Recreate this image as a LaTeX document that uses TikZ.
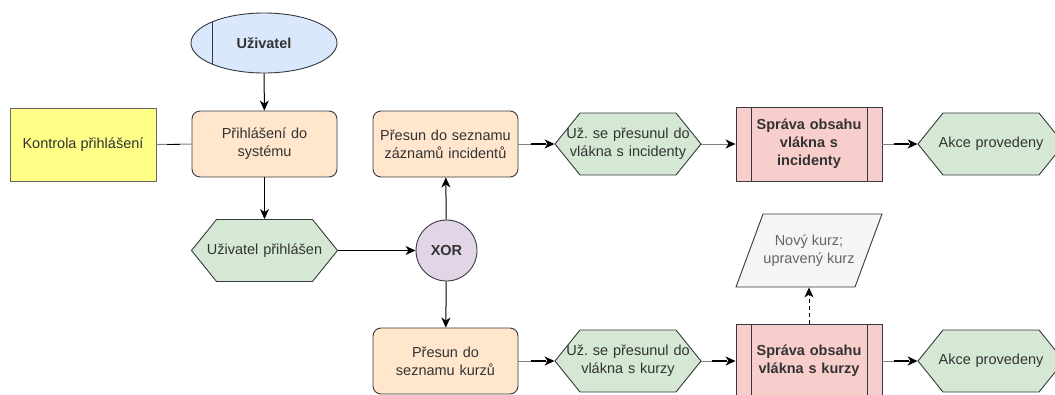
\documentclass[tikz,border=0pt]{standalone}
\usepackage{fontspec}
\setmainfont{Liberation Sans}
\usetikzlibrary{arrows.meta,shapes.geometric}
\frenchspacing

\definecolor{txt}{HTML}{333333}
\definecolor{edge}{HTML}{36393D}
\definecolor{line}{HTML}{808080}
\definecolor{userfill}{HTML}{DAE8FC}
\definecolor{procfill}{HTML}{FFE6CC}
\definecolor{eventfill}{HTML}{D5E8D4}
\definecolor{xorfill}{HTML}{E1D5E7}
\definecolor{subfill}{HTML}{F8CECC}
\definecolor{ctrlfill}{HTML}{FFFF88}
\definecolor{datafill}{HTML}{F5F5F5}
\definecolor{datatxt}{HTML}{666666}

\tikzset{
  base/.style={draw=edge, line width=0.9pt, text=txt, align=center,
    font=\fontsize{14.5}{18}\selectfont, inner sep=2pt},
  proc/.style={base, rounded corners=8pt, fill=procfill,
    minimum width=145pt, minimum height=66pt, text width=138pt},
  ctrl/.style={base, draw=datatxt, fill=ctrlfill,
    minimum width=146pt, minimum height=73pt},
  subproc/.style={base, fill=subfill, minimum width=146pt, minimum height=74pt,
    text width=112pt, font=\fontsize{14.5}{18}\selectfont\bfseries,
    path picture={
      \draw[edge, line width=0.9pt]
        ([xshift=15pt]path picture bounding box.north west) --
        ([xshift=15pt]path picture bounding box.south west)
        ([xshift=-15pt]path picture bounding box.north east) --
        ([xshift=-15pt]path picture bounding box.south east);}},
  evtext/.style={base, draw=none, minimum width=146pt, minimum height=62pt,
    text width=128pt},
  user/.style={base, ellipse, fill=userfill, minimum width=146pt,
    minimum height=60pt, font=\fontsize{14.5}{18}\selectfont\bfseries,
    path picture={
      \draw[edge, line width=0.9pt]
        ([xshift=-52pt]path picture bounding box.north) --
        ([xshift=-52pt]path picture bounding box.south);}},
  xorgate/.style={base, circle, fill=xorfill, minimum size=61pt,
    font=\fontsize{14.5}{18}\selectfont\bfseries},
  flow/.style={line, line width=1pt, -{Stealth[length=10pt,width=9pt,inset=3pt,black]}},
  flowdark/.style={black, line width=1pt, -{Stealth[length=10pt,width=9pt,inset=3pt]}},
  tipbar/.style={black, line width=1.8pt},
  outflow/.style={black, line width=1pt, dashed, dash pattern=on 4pt off 3pt,
    -{Stealth[length=10pt,width=9pt,inset=3pt]}}
}

% event hexagon: filled outline plus a named text node of the same extent
\newcommand{\eventhex}[4]{%
  \filldraw[fill=eventfill, draw=edge, line width=0.9pt]
    (#2-73,#3) -- (#2-48,#3-31) -- (#2+48,#3-31) -- (#2+73,#3)
    -- (#2+48,#3+31) -- (#2-48,#3+31) -- cycle;
  \node[evtext] (#1) at (#2,#3) {#4};}

\begin{document}
\begin{tikzpicture}[x=1pt, y=-1pt]
\useasboundingbox (0,0) rectangle (1055,394);

% actor and login
\node[user] (uzivatel) at (264,43) {Uživatel};
\node[proc] (login) at (264.5,144) {Přihlášení do\\systému};
\node[ctrl] (kontrola) at (83,144.5) {Kontrola přihlášení};

\eventhex{prihlasen}{264.5}{250.5}{Uživatel přihlášen}
\node[xorgate] (xor) at (446.5,250.5) {XOR};

% incident branch
\node[proc] (presinc) at (445.5,144) {Přesun do seznamu\\záznamů incidentů};
\eventhex{vlakinc}{628}{144}{Už. se přesunul do\\vlákna s incidenty}
\node[subproc] (spravainc) at (809,144) {Správa obsahu\\vlákna s\\incidenty};
\eventhex{akceinc}{991}{144}{Akce provedeny}

% course branch
\node[proc] (preskurz) at (445.5,361) {Přesun do\\seznamu kurzů};
\eventhex{vlakkurz}{628}{361}{Už. se přesunul do\\vlákna s kurzy}
\node[subproc] (spravakurz) at (809,361) {Správa obsahu\\vlákna s kurzy};
\eventhex{akcekurz}{991}{361}{Akce provedeny}

% output data
\filldraw[fill=datafill, draw=edge, line width=0.9pt]
  (736,287) -- (763,214) -- (882,214) -- (855,287) -- cycle;
\node[base, draw=none, text=datatxt, minimum width=100pt, minimum height=73pt]
  (novy) at (809,250.5) {Nový kurz;\\upravený kurz};

% connectors
\draw[flowdark] (uzivatel) -- (login);
\draw[line, line width=1pt] (kontrola.east) -- (login.west);
\draw[tipbar] ([xshift=11pt]kontrola.east) -- ([xshift=24pt]kontrola.east);
\draw[flowdark] (login) -- (prihlasen);
\draw[flowdark] (prihlasen.east) -- (xor);
\draw[flowdark] (xor) -- (presinc);
\draw[flowdark] (xor) -- (preskurz);

\draw[flow] (presinc.east) -- (vlakinc.west);
\draw[tipbar] ([xshift=-24pt]vlakinc.west) -- ([xshift=-9pt]vlakinc.west);
\draw[flow] (vlakinc.east) -- (spravainc.west);
\draw[flow] (spravainc.east) -- (akceinc.west);
\draw[tipbar] ([xshift=-24pt]akceinc.west) -- ([xshift=-9pt]akceinc.west);

\draw[flow] (preskurz.east) -- (vlakkurz.west);
\draw[tipbar] ([xshift=-24pt]vlakkurz.west) -- ([xshift=-9pt]vlakkurz.west);
\draw[flow] (vlakkurz.east) -- (spravakurz.west);
\draw[tipbar] ([xshift=-24pt]spravakurz.west) -- ([xshift=-9pt]spravakurz.west);
\draw[flow] (spravakurz.east) -- (akcekurz.west);
\draw[tipbar] ([xshift=-24pt]akcekurz.west) -- ([xshift=-9pt]akcekurz.west);

\draw[outflow] (spravakurz.north) -- (novy.south);
\end{tikzpicture}
\end{document}
